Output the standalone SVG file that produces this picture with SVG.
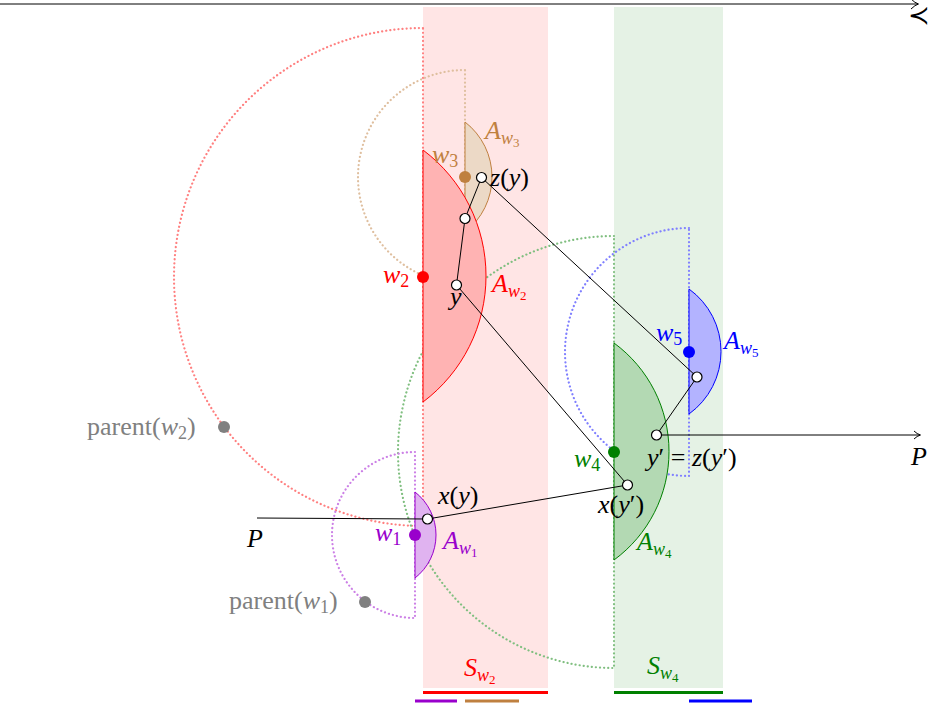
<svg xmlns="http://www.w3.org/2000/svg" width="931" height="710" viewBox="0 0 931 710">
<style>
.t{font-family:"Liberation Serif","Times New Roman",serif;font-size:26px}
.i{font-style:italic}
.s{font-size:18px}
.ss{font-size:13px}
.dot{fill:none;stroke-width:2.2;stroke-dasharray:0.1 4;stroke-linecap:round}
.ln{fill:none;stroke:#000;stroke-width:1}
.pt{fill:#fff;stroke:#000;stroke-width:1.2}
.bar{stroke-width:3}
</style>
<rect width="931" height="710" fill="#fff"/>
<g id="strips">
<rect x="423" y="7" width="125" height="681" fill="#ffe5e5"/>
<rect x="614" y="7" width="109" height="681" fill="#e5f2e5"/>
<line class="bar" x1="423" y1="692.5" x2="548" y2="692.5" stroke="#ff0000"/>
<line class="bar" x1="614" y1="692.5" x2="723" y2="692.5" stroke="#008000"/>
<line class="bar" x1="415" y1="701" x2="457" y2="701" stroke="#9900cc"/>
<line class="bar" x1="465" y1="701" x2="519" y2="701" stroke="#bf8040"/>
<line class="bar" x1="689" y1="701" x2="752" y2="701" stroke="#0000ff"/>
</g>
<g id="dotted-circles">
<path class="dot" stroke="#ff8080" d="M423,28 A249,249 0 0 0 174,277 A249,249 0 0 0 423,526 L423,28"/>
<path class="dot" stroke="#dfbf9f" d="M465,70 A107,107 0 0 0 358,177 A107,107 0 0 0 465,284 L465,70"/>
<path class="dot" stroke="#80bf80" d="M614,236 A216,216 0 0 0 398,452 A216,216 0 0 0 614,668 L614,236"/>
<path class="dot" stroke="#8080ff" d="M689,228 A124,124 0 0 0 565,352 A124,124 0 0 0 689,476 L689,228"/>
<path class="dot" stroke="#cc80e6" d="M415,452 A83,83 0 0 0 332,535 A83,83 0 0 0 415,618 L415,452"/>
</g>
<g id="regions">
<path d="M465,122 A69.5,69.5 0 0 1 465,232 Z" fill="#ecd9c6" stroke="#bf8040" stroke-width="1"/>
<path d="M423,150 A157.5,157.5 0 0 1 423,402 Z" fill="#ffb3b3" stroke="#ff0000" stroke-width="1"/>
<path d="M614,343 A134.5,134.5 0 0 1 614,560 Z" fill="#b3d9b3" stroke="#008000" stroke-width="1"/>
<path d="M689,289 A77,77 0 0 1 689,414 Z" fill="#b3b3ff" stroke="#0000ff" stroke-width="1"/>
<path d="M415,492 A54.5,54.5 0 0 1 415,578 Z" fill="#e0b3f0" stroke="#9900cc" stroke-width="1"/>
</g>
<g id="connectors">
<line class="ln" x1="0" y1="4" x2="918" y2="4" stroke-width="1.4"/>
<path class="ln" stroke-width="1.4" d="M911,-1 Q915,3 918.5,4 Q915,5 911,9"/>
<line class="ln" x1="656" y1="435" x2="920" y2="435"/>
<path class="ln" d="M914,431 Q917,434 920.5,435 Q917,436 914,439"/>
<line class="ln" x1="257" y1="518" x2="427.5" y2="519"/>
<line class="ln" x1="427.5" y1="519" x2="627.5" y2="485"/>
<line class="ln" x1="456.5" y1="285" x2="627.5" y2="485"/>
<polyline class="ln" points="456.5,285 465,218.5 481.5,177.5"/>
<line class="ln" x1="481.5" y1="177.5" x2="697" y2="377"/>
<line class="ln" x1="697" y1="377" x2="656.5" y2="435"/>
</g>
<g id="points">
<circle class="pt" cx="481.5" cy="177.5" r="5"/>
<circle class="pt" cx="465" cy="218.5" r="5"/>
<circle class="pt" cx="456.5" cy="285" r="5"/>
<circle class="pt" cx="427.5" cy="519" r="5"/>
<circle class="pt" cx="627.5" cy="485" r="5"/>
<circle class="pt" cx="656.5" cy="435" r="5"/>
<circle class="pt" cx="697" cy="377" r="5"/>
</g>
<g id="node-w1"><circle cx="415" cy="535" r="6" fill="#9900cc"/>
<text class="t" x="375" y="541" fill="#9900cc"><tspan class="i">w</tspan><tspan class="s" dy="4">1</tspan></text>
<text class="t" x="443" y="549" fill="#9900cc"><tspan class="i">A</tspan><tspan class="s i" dy="5">w</tspan><tspan class="ss" dy="3">1</tspan></text></g>
<g id="node-w2"><circle cx="423" cy="277" r="6" fill="#ff0000"/>
<text class="t" x="383" y="283" fill="#ff0000"><tspan class="i">w</tspan><tspan class="s" dy="4">2</tspan></text>
<text class="t" x="492" y="292" fill="#ff0000"><tspan class="i">A</tspan><tspan class="s i" dy="5">w</tspan><tspan class="ss" dy="3">2</tspan></text></g>
<g id="node-w3"><circle cx="465" cy="177" r="6" fill="#bf8040"/>
<text class="t" x="432" y="163" fill="#bf8040"><tspan class="i">w</tspan><tspan class="s" dy="4">3</tspan></text>
<text class="t" x="485" y="139" fill="#bf8040"><tspan class="i">A</tspan><tspan class="s i" dy="5">w</tspan><tspan class="ss" dy="3">3</tspan></text></g>
<g id="node-w4"><circle cx="614" cy="452" r="6" fill="#008000"/>
<text class="t" x="574" y="467" fill="#008000"><tspan class="i">w</tspan><tspan class="s" dy="4">4</tspan></text>
<text class="t" x="637" y="550" fill="#008000"><tspan class="i">A</tspan><tspan class="s i" dy="5">w</tspan><tspan class="ss" dy="3">4</tspan></text></g>
<g id="node-w5"><circle cx="689" cy="352" r="6" fill="#0000ff"/>
<text class="t" x="656" y="341" fill="#0000ff"><tspan class="i">w</tspan><tspan class="s" dy="4">5</tspan></text>
<text class="t" x="724" y="349" fill="#0000ff"><tspan class="i">A</tspan><tspan class="s i" dy="5">w</tspan><tspan class="ss" dy="3">5</tspan></text></g>
<g id="node-parent-w2"><circle cx="224" cy="427" r="6" fill="#808080"/>
<text class="t" x="87" y="435" fill="#808080">parent(<tspan class="i">w</tspan><tspan class="s" dy="4">2</tspan><tspan dy="-4">)</tspan></text></g>
<g id="node-parent-w1"><circle cx="365" cy="602" r="6" fill="#808080"/>
<text class="t" x="229" y="609" fill="#808080">parent(<tspan class="i">w</tspan><tspan class="s" dy="4">1</tspan><tspan dy="-4">)</tspan></text></g>
<g id="labels">
<text class="t" x="908" y="24" font-size="22">≺</text>
<text class="t i" x="247" y="547">P</text>
<text class="t i" x="911" y="465">P</text>
<text class="t" x="438" y="504"><tspan class="i">x</tspan>(<tspan class="i">y</tspan>)</text>
<text class="t" x="598" y="513"><tspan class="i">x</tspan>(<tspan class="i">y</tspan>′)</text>
<text class="t" x="647" y="466"><tspan class="i">y</tspan>′ = <tspan class="i">z</tspan>(<tspan class="i">y</tspan>′)</text>
<text class="t i" x="450" y="305">y</text>
<text class="t" x="490" y="186"><tspan class="i">z</tspan>(<tspan class="i">y</tspan>)</text>
<text class="t" x="464" y="676" fill="#ff0000" font-size="29"><tspan class="i">S</tspan><tspan class="s i" dy="5">w</tspan><tspan class="ss" dy="3">2</tspan></text>
<text class="t" x="647" y="674" fill="#008000" font-size="29"><tspan class="i">S</tspan><tspan class="s i" dy="5">w</tspan><tspan class="ss" dy="3">4</tspan></text>
</g>
</svg>
